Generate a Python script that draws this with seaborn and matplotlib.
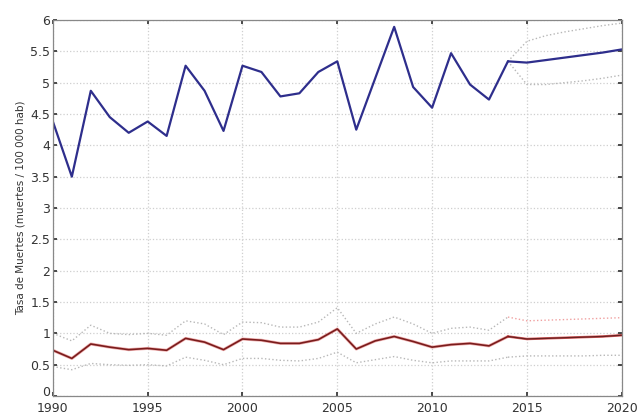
import numpy as np
import pandas as pd
import matplotlib
matplotlib.use("Agg")
import matplotlib.pyplot as plt
import seaborn as sns

sns.set_theme(style="whitegrid")
plt.rcParams['font.family'] = ['DejaVu Sans']

# Historical years and the projection period
years = list(range(1990, 2015))
proj_years = list(range(2014, 2021))

# Upper series (blue) - observed
blue_obs = [4.38, 3.50, 4.87, 4.45, 4.20, 4.38, 4.15, 5.27, 4.87, 4.23,
            5.27, 5.17, 4.78, 4.83, 5.17, 5.34, 4.25, 5.07, 5.89, 4.93,
            4.60, 5.47, 4.97, 4.73, 5.34]
blue_proj = [5.34, 5.32, 5.36, 5.40, 5.44, 5.48, 5.53]
blue_hi = [5.34, 5.66, 5.75, 5.81, 5.86, 5.91, 5.95]
blue_lo = [5.34, 4.97, 4.97, 5.00, 5.03, 5.07, 5.12]

# Lower series (red) - observed with band
red_obs = [0.73, 0.60, 0.83, 0.78, 0.74, 0.76, 0.73, 0.92, 0.86, 0.74,
           0.91, 0.89, 0.84, 0.84, 0.90, 1.07, 0.75, 0.88, 0.95, 0.87,
           0.78, 0.82, 0.84, 0.80, 0.95]
red_hi = [1.00, 0.88, 1.13, 1.00, 0.98, 1.00, 0.97, 1.20, 1.15, 0.98,
          1.18, 1.17, 1.10, 1.10, 1.18, 1.41, 1.00, 1.15, 1.26, 1.15,
          1.00, 1.08, 1.10, 1.05, 1.26]
red_lo = [0.47, 0.42, 0.52, 0.50, 0.49, 0.50, 0.48, 0.62, 0.57, 0.50,
          0.60, 0.60, 0.57, 0.56, 0.60, 0.70, 0.53, 0.58, 0.63, 0.57,
          0.53, 0.56, 0.56, 0.56, 0.62]
red_proj = [0.95, 0.91, 0.92, 0.93, 0.94, 0.95, 0.97]
red_proj_hi = [1.26, 1.20, 1.21, 1.22, 1.23, 1.24, 1.25]
red_proj_lo = [0.62, 0.64, 0.64, 0.64, 0.64, 0.65, 0.65]

fig = plt.figure(figsize=(6.37, 4.16), dpi=100)
ax = fig.add_axes([0.083, 0.048, 0.893, 0.904])

band = dict(color="#b8b8b8", linewidth=1.0, linestyle=":")

# red series with band
sns.lineplot(x=years, y=red_hi, ax=ax, **band)
sns.lineplot(x=years, y=red_lo, ax=ax, **band)
sns.lineplot(x=proj_years, y=red_proj_hi, ax=ax, color="#f0a0a0", linewidth=1.0, linestyle=":")
sns.lineplot(x=proj_years, y=red_proj_lo, ax=ax, **band)
sns.lineplot(x=years, y=red_obs, ax=ax, color="#e06060", linewidth=2.2, alpha=0.5)
sns.lineplot(x=years, y=red_obs, ax=ax, color="#7a1c1c", linewidth=1.2)
sns.lineplot(x=proj_years, y=red_proj, ax=ax, color="#d02020", linewidth=1.8, alpha=0.7)
sns.lineplot(x=proj_years, y=red_proj, ax=ax, color="#6a2020", linewidth=1.0)

# blue series with projection band
sns.lineplot(x=proj_years, y=blue_hi, ax=ax, **band)
sns.lineplot(x=proj_years, y=blue_lo, ax=ax, **band)
sns.lineplot(x=years, y=blue_obs, ax=ax, color="#2e2e8c", linewidth=1.6)
sns.lineplot(x=proj_years, y=blue_proj, ax=ax, color="#2e2e8c", linewidth=1.6)

ax.set_xlim(1990, 2020)
ax.set_ylim(0, 6)
ax.set_xticks(range(1990, 2021, 5))
ax.set_yticks(np.arange(0, 6.01, 0.5))
ax.set_yticklabels(["0", "0.5", "1", "1.5", "2", "2.5", "3", "3.5", "4", "4.5", "5", "5.5", "6"])
ax.grid(True, color="#cfcfcf", linestyle=":", linewidth=0.9)
ax.tick_params(axis="both", labelsize=9, colors="#333333", length=3, direction="in")
ax.tick_params(axis="y", left=True, right=True, pad=2)
ax.tick_params(axis="x", bottom=True, top=True, pad=4)
# lift the "0" label a little so it does not collide with "1990"
ax.get_yticklabels()[0].set_verticalalignment("baseline")
for s in ax.spines.values():
    s.set_color("#888888")
    s.set_linewidth(0.9)
ax.set_ylabel("Tasa de Muertes (muertes / 100 000 hab)", fontsize=7.5, color="#333333", labelpad=3)
ax.set_xlabel("")

fig.savefig("out.png", dpi=100)
